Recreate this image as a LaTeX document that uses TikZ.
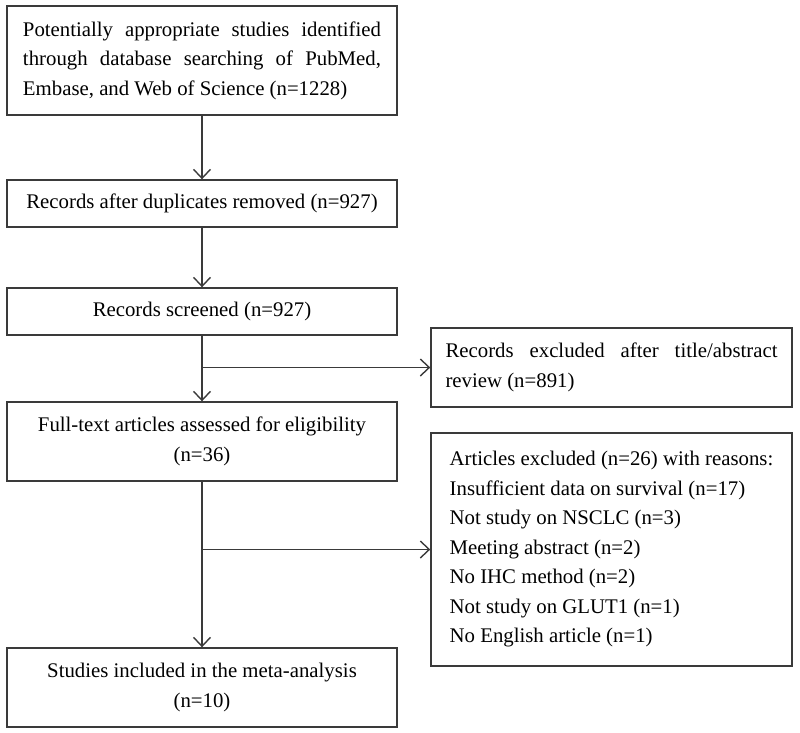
\documentclass[tikz,border=0pt]{standalone}
\usepackage{fontspec}
\setmainfont{Liberation Serif}
\usetikzlibrary{arrows.meta}
\definecolor{linec}{HTML}{3A3A3A}
\newcommand{\nohyph}{\hyphenpenalty=10000\relax\exhyphenpenalty=10000\relax}
\tikzset{
  box/.style={draw=linec, line width=1.4pt, rectangle, inner sep=0pt,
    font=\fontsize{20.8}{29.5}\selectfont\nohyph},
  leftbox/.style={box, minimum width=390pt},
  rightbox/.style={box, minimum width=361pt},
  arr/.style={draw=linec, line width=1.4pt, -{Straight Barb[length=9pt,width=17pt,line width=1.4pt]}}
}
\begin{document}
\begin{tikzpicture}[x=1pt,y=-1pt]
\useasboundingbox (0,0) rectangle (800,732);
\node[leftbox, minimum height=109pt, text width=358pt, align=justify] (b1) at (202,60.5)
  {Potentially appropriate studies identified through database searching of PubMed, Embase, and Web of Science (n=1228)};
\node[leftbox, minimum height=47pt, align=center] (b2) at (202,203.5)
  {Records after duplicates removed (n=927)};
\node[leftbox, minimum height=47pt, align=center] (b3) at (202,311.5)
  {Records screened (n=927)};
\node[leftbox, minimum height=79pt, align=center] (b4) at (202,441.5)
  {Full-text articles assessed for eligibility\\(n=36)};
\node[leftbox, minimum height=79pt, align=center] (b5) at (202,687.5)
  {Studies included in the meta-analysis\\(n=10)};
\node[rightbox, minimum height=79pt, text width=332pt, align=justify] (r1) at (611.5,367.5)
  {Records excluded after title/abstract review (n=891)};
\node[rightbox, minimum height=233pt, align=left] (r2) at (611.5,549.5)
  {Articles excluded (n=26) with reasons:\\
   Insufficient data on survival (n=17)\\
   Not study on NSCLC (n=3)\\
   Meeting abstract (n=2)\\
   No IHC method (n=2)\\
   Not study on GLUT1 (n=1)\\
   No English article (n=1)};
\coordinate (j1) at (b3.south |- r1.west);
\coordinate (j2) at (b4.south |- r2.west);
\draw[arr] (b1) -- (b2);
\draw[arr] (b2) -- (b3);
\draw[arr] (b3) -- (b4);
\draw[arr] (b4) -- (b5);
\draw[arr] (j1) -- (r1);
\draw[arr] (j2) -- (r2);
\end{tikzpicture}
\end{document}
